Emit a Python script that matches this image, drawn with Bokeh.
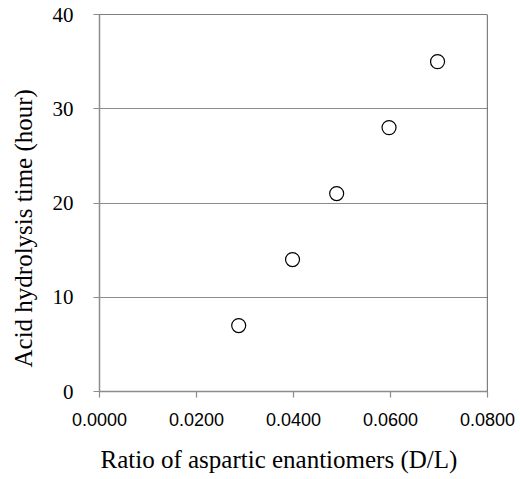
from bokeh.plotting import figure
from bokeh.models import FixedTicker, NumeralTickFormatter, Span, Title, Range1d
from bokeh.embed import file_html
from bokeh.resources import INLINE

# data
ratio_dl = [0.0287, 0.0398, 0.0489, 0.0597, 0.0697]
hydrolysis_hours = [7, 14, 21, 28, 35]
x_ticks = [0.0, 0.02, 0.04, 0.06, 0.08]
y_ticks = [0, 10, 20, 30, 40]
x_title = "Ratio of aspartic enantiomers (D/L)"
y_title = "Acid hydrolysis time (hour)"

GRAY = "#8c8c8c"

p = figure(width=520, height=488, output_backend="svg", toolbar_location=None,
           x_range=Range1d(x_ticks[0], x_ticks[-1]), y_range=Range1d(y_ticks[0], y_ticks[-1]),
           min_border_left=98, min_border_right=28, min_border_top=14, min_border_bottom=88,
           margin=(0, 0, 0, -5))
p.outline_line_color = None
p.background_fill_color = "white"
p.border_fill_color = "white"

p.scatter(ratio_dl, hydrolysis_hours, size=14, marker="circle",
          fill_color="white", line_color="black", line_width=1.2)

# axes
p.xaxis.ticker = FixedTicker(ticks=x_ticks)
p.yaxis.ticker = FixedTicker(ticks=y_ticks)
p.xaxis.formatter = NumeralTickFormatter(format="0.0000")
for ax in (p.xaxis[0], p.yaxis[0]):
    ax.axis_line_color = GRAY
    ax.axis_line_width = 1.5
    ax.major_tick_line_color = GRAY
    ax.major_tick_line_width = 1.2
    ax.major_tick_out = 6
    ax.major_tick_in = 0
    ax.minor_tick_line_color = None
    ax.major_label_text_color = "black"

p.xaxis.major_label_text_font = "Liberation Sans"
p.xaxis.major_label_text_font_size = "18px"
p.xaxis.major_label_standoff = 15
p.yaxis.major_label_text_font = "Liberation Serif"
p.yaxis.major_label_text_font_size = "21px"
p.yaxis.major_label_standoff = 20

p.xgrid.grid_line_color = None
p.ygrid.grid_line_color = GRAY
p.ygrid.grid_line_width = 1.2

# top and right border lines
p.add_layout(Span(location=x_ticks[-1], dimension="height", line_color="black", line_width=1.2))
p.add_layout(Span(location=y_ticks[-1], dimension="width", line_color="black", line_width=1.2))

xt = Title(text=x_title, align="left", offset=1, text_font="Liberation Serif",
           text_color="black", text_font_size="25px", text_font_style="normal", standoff=31)
p.add_layout(xt, "below")
yt = Title(text=y_title, align="left", offset=24, text_font="Liberation Serif",
           text_color="black", text_font_size="25px", text_font_style="normal", standoff=25)
p.add_layout(yt, "left")

open("out.html", "w").write(file_html(p, INLINE))
